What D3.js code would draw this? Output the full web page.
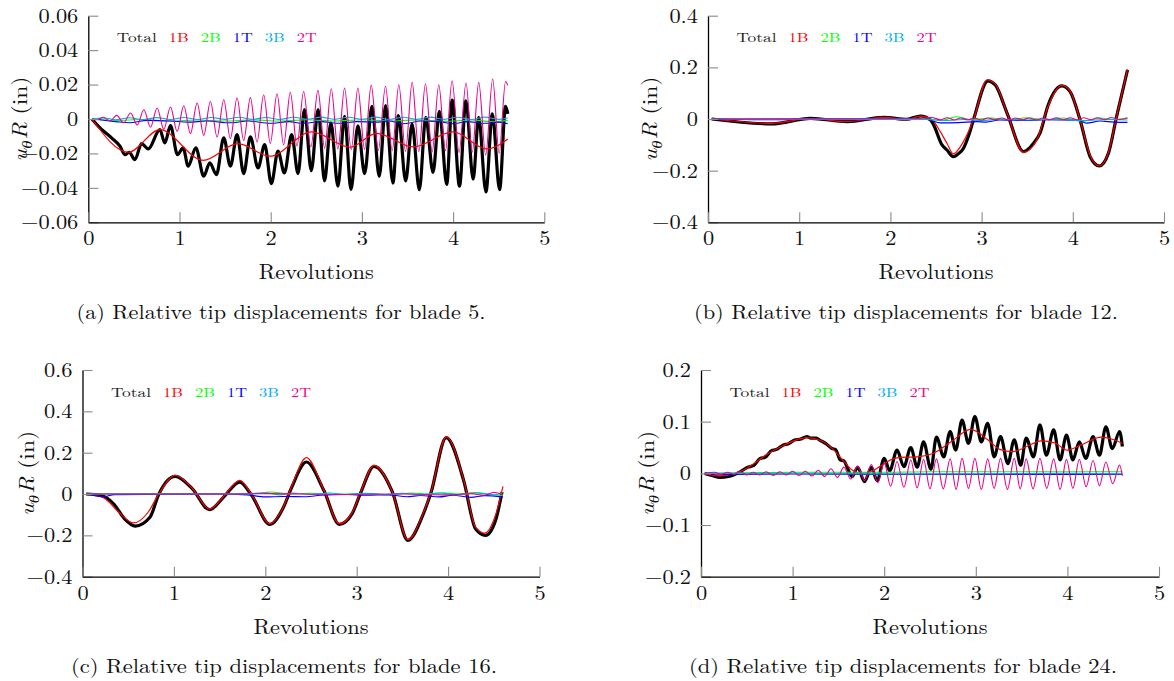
<!DOCTYPE html>
<html>
<head>
<meta charset="utf-8">
<script src="https://cdn.jsdelivr.net/npm/d3@7"></script>
<style>
body { margin: 0; background: #fff; }
svg { display: block; font-family: "Latin Modern Roman", "CMU Serif", "Liberation Serif", serif; }
</style>
</head>
<body>
<svg id="mainsvg" width="1174" height="681"></svg>
<script>
// ---- data (x = revolutions, y = u_theta R in inches) ----
const revTicks = [0, 1, 2, 3, 4, 5];
const modeNames = ['Total', '1B', '2B', '1T', '3B', '2T'];

const blade5Ticks = [-0.06, -0.04, -0.02, 0, 0.02, 0.04, 0.06];
const blade5TickLabels = ['−0.06', '−0.04', '−0.02', '0', '0.02', '0.04', '0.06'];
const blade12Ticks = [-0.4, -0.2, 0, 0.2, 0.4];
const blade12TickLabels = ['−0.4', '−0.2', '0', '0.2', '0.4'];
const blade16Ticks = [-0.4, -0.2, 0, 0.2, 0.4, 0.6];
const blade16TickLabels = ['−0.4', '−0.2', '0', '0.2', '0.4', '0.6'];
const blade24Ticks = [-0.2, -0.1, 0, 0.1, 0.2];
const blade24TickLabels = ['−0.2', '−0.1', '0', '0.1', '0.2'];

const captions = [
  '(a) Relative tip displacements for blade 5.',
  '(b) Relative tip displacements for blade 12.',
  '(c) Relative tip displacements for blade 16.',
  '(d) Relative tip displacements for blade 24.'
];

// blade 5
const blade5Total = [[0.04,0],[0.128,-0.0052],[0.255,-0.011],[0.347,-0.0158],[0.401,-0.0207],[0.449,-0.0193],[0.511,-0.0236],[0.584,-0.0143],[0.657,-0.0174],[0.785,-0.0062],[0.839,-0.0139],[0.901,-0.0039],[0.978,-0.0207],[1.04,-0.0168],[1.095,-0.0274],[1.179,-0.0168],[1.266,-0.0332],[1.332,-0.0255],[1.405,-0.0323],[1.485,-0.011],[1.558,-0.0274],[1.631,-0.0091],[1.704,-0.0317],[1.777,-0.0104],[1.861,-0.0284],[1.934,-0.0149],[2.007,-0.0375],[2.08,-0.0187],[2.15,-0.0313],[2.23,-0.0091],[2.3,-0.0317],[2.37,0.0054],[2.445,-0.030],[2.52,0.0054],[2.59,-0.036],[2.66,-0.0023],[2.737,-0.039],[2.81,0.0015],[2.88,-0.041],[2.956,-0.004],[3.03,-0.0318],[3.11,0.0074],[3.19,-0.0333],[3.26,0.0078],[3.34,-0.0372],[3.40,0.002],[3.48,-0.036],[3.55,-0.003],[3.63,-0.0411],[3.70,0.001],[3.78,-0.031],[3.85,0.0045],[3.93,-0.038],[3.99,0.011],[4.07,-0.039],[4.14,0.0105],[4.22,-0.035],[4.28,0.001],[4.36,-0.0424],[4.43,0.003],[4.51,-0.0411],[4.575,0.0074],[4.6,0.003]];
const blade5Mode1B = [[0.04,0],[0.44,-0.0193],[0.785,-0.0062],[1.26,-0.024],[1.64,-0.0143],[1.99,-0.0216],[2.45,-0.0075],[2.87,-0.0164],[3.16,-0.0083],[3.56,-0.0162],[4.0,-0.0075],[4.37,-0.0174],[4.6,-0.0116]];
const blade5Mode2B = [[0.04,0],[0.3,-0.0008],[0.6,-0.0003],[0.9,-0.0012],[1.2,-0.0006],[1.5,-0.0012],[1.8,-0.0005],[2.1,-0.0012],[2.4,-0.0004],[2.7,-0.0012],[3.0,-0.0004],[3.3,-0.0012],[3.6,-0.0005],[3.9,-0.0014],[4.2,-0.0006],[4.45,-0.0016],[4.6,-0.0008]];
const blade5Mode1T = [[0.04,0],[0.3,-0.0015],[0.45,-0.0022],[0.65,-0.0008],[0.9,-0.0012],[1.1,-0.0018],[1.3,-0.0012],[1.55,-0.0022],[1.75,-0.0012],[2.0,-0.0025],[2.2,-0.0015],[2.35,-0.0025],[2.55,-0.0015],[2.75,-0.0025],[2.95,-0.0015],[3.15,-0.0018],[3.3,-0.0012],[3.45,-0.0028],[3.65,-0.0012],[3.85,-0.0015],[4.0,-0.0028],[4.15,-0.0015],[4.35,-0.0025],[4.5,-0.0018],[4.6,-0.0028]];
const blade5Mode3B = [[0.04,0],[0.17,0.0006],[0.3,-0.0004],[0.45,0.0007],[0.6,-0.0004],[0.75,0.0008],[0.9,-0.0003],[1.05,0.0009],[1.2,-0.0003],[1.35,0.0009],[1.5,-0.0002],[1.65,0.001],[1.8,-0.0002],[1.95,0.0009],[2.1,-0.0003],[2.25,0.001],[2.4,-0.0002],[2.55,0.0011],[2.7,-0.0002],[2.85,0.001],[3.0,-0.0002],[3.15,0.0011],[3.3,-0.0003],[3.45,0.001],[3.6,-0.0002],[3.75,0.0011],[3.9,-0.0002],[4.05,0.001],[4.2,-0.0003],[4.35,0.0011],[4.5,-0.0002],[4.6,0.0006]];
const blade5Mode2T = [[0.04,0],[0.09,-0.0004],[0.164,0.001],[0.237,-0.0012],[0.31,0.0021],[0.387,-0.0022],[0.464,0.0035],[0.536,-0.0035],[0.609,0.0054],[0.682,-0.0048],[0.755,0.0064],[0.828,-0.006],[0.901,0.007],[0.974,-0.0072],[1.047,0.0077],[1.12,-0.0085],[1.193,0.0093],[1.266,-0.0095],[1.339,0.0102],[1.412,-0.0105],[1.485,0.0112],[1.558,-0.0115],[1.631,0.0122],[1.704,-0.0125],[1.777,0.0124],[1.85,-0.0135],[1.923,0.0141],[1.996,-0.0142],[2.069,0.0147],[2.142,-0.015],[2.215,0.0155],[2.288,-0.0157],[2.361,0.016],[2.44,-0.0163],[2.518,0.0166],[2.591,-0.017],[2.664,0.0176],[2.737,-0.0175],[2.81,0.018],[2.883,-0.0178],[2.956,0.018],[3.029,-0.0176],[3.102,0.0197],[3.18,-0.0182],[3.259,0.019],[3.332,-0.0185],[3.405,0.0199],[3.478,-0.0188],[3.551,0.0213],[3.624,-0.019],[3.697,0.0205],[3.77,-0.0192],[3.843,0.0199],[3.916,-0.0185],[3.989,0.0222],[4.065,-0.0195],[4.142,0.0209],[4.21,-0.0193],[4.281,0.0213],[4.357,-0.021],[4.434,0.0232],[4.505,-0.02],[4.575,0.0218],[4.6,0.0195]];

// blade 12
const blade12Total = [[0.04,0],[0.70,-0.019],[1.124,0.0026],[1.526,-0.0103],[1.927,0.0065],[2.18,-0.001],[2.33,0.0116],[2.44,-0.004],[2.47,-0.02],[2.566,-0.1006],[2.62,-0.12],[2.69,-0.146],[2.75,-0.133],[2.80,-0.114],[2.86,-0.062],[2.91,-0.004],[3.07,0.148],[3.15,0.132],[3.28,0.022],[3.46,-0.126],[3.57,-0.094],[3.64,-0.055],[3.73,0.054],[3.88,0.128],[3.97,0.106],[4.08,-0.004],[4.19,-0.146],[4.29,-0.182],[4.39,-0.133],[4.48,0.009],[4.6,0.19]];
const blade12Mode1B = [[0.04,0],[0.70,-0.017],[1.124,0.002],[1.526,-0.01],[1.927,0.006],[2.18,-0.001],[2.33,0.011],[2.46,-0.004],[2.547,-0.049],[2.62,-0.094],[2.69,-0.135],[2.78,-0.1],[2.91,-0.004],[3.06,0.151],[3.15,0.135],[3.28,0.022],[3.46,-0.129],[3.6,-0.085],[3.73,0.05],[3.88,0.13],[3.97,0.108],[4.08,-0.004],[4.19,-0.14],[4.29,-0.182],[4.39,-0.13],[4.48,0.009],[4.6,0.192]];
const blade12Mode2B = [[0.04,0],[2.4,0],[2.55,-0.006],[2.73,0.009],[2.9,-0.003],[3.1,0.004],[3.3,-0.004],[3.5,0.005],[3.7,-0.003],[3.9,0.004],[4.1,-0.01],[4.3,0.004],[4.45,-0.002],[4.6,0.005]];
const blade12Mode1T = [[0.04,0],[0.7,-0.003],[1.2,0],[1.6,-0.003],[2.0,0],[2.4,-0.002],[2.55,-0.015],[2.75,-0.014],[2.95,-0.01],[3.05,-0.012],[3.2,-0.004],[3.5,-0.006],[3.7,-0.003],[3.9,-0.004],[4.05,-0.005],[4.15,-0.016],[4.3,-0.008],[4.45,-0.012],[4.6,-0.013]];
const blade12Mode3B = [[0.04,0],[2.4,-0.002],[2.6,-0.006],[2.8,-0.002],[3.0,-0.006],[3.2,-0.001],[3.5,-0.004],[3.8,-0.001],[4.1,-0.006],[4.4,-0.002],[4.6,-0.004]];
const blade12Mode2T = [[0.04,0],[2.3,0.002],[2.45,0.006],[2.55,-0.003],[2.62,0.005],[2.7,-0.004],[2.77,0.004],[2.85,-0.003],[2.92,0.004],[3.0,-0.004],[3.07,0.004],[3.15,-0.003],[3.22,0.004],[3.3,-0.004],[3.37,0.004],[3.45,-0.003],[3.52,0.004],[3.6,-0.004],[3.67,0.004],[3.75,-0.003],[3.82,0.005],[3.9,-0.003],[3.97,0.005],[4.05,-0.003],[4.12,0.005],[4.2,-0.003],[4.27,0.005],[4.35,-0.003],[4.42,0.006],[4.5,-0.002],[4.6,0.004]];

// blade 16
const blade16Total = [[0.04,0],[0.193,-0.006],[0.34,-0.047],[0.46,-0.12],[0.577,-0.155],[0.74,-0.111],[0.83,-0.006],[1.015,0.085],[1.2,0.026],[1.39,-0.076],[1.544,-0.015],[1.72,0.058],[1.85,-0.006],[2.05,-0.147],[2.2,-0.063],[2.29,0.034],[2.45,0.155],[2.64,0.018],[2.81,-0.147],[2.95,-0.095],[3.04,0.002],[3.19,0.134],[3.39,0.01],[3.56,-0.224],[3.73,-0.095],[3.81,0.002],[3.98,0.273],[4.17,0.066],[4.3,-0.168],[4.41,-0.2],[4.52,-0.127],[4.59,0.01]];
const blade16Mode1B = [[0.04,0],[0.23,-0.018],[0.394,-0.087],[0.558,-0.14],[0.72,-0.087],[0.83,-0.003],[1.015,0.09],[1.2,0.028],[1.39,-0.073],[1.544,-0.012],[1.72,0.066],[1.85,-0.002],[2.05,-0.144],[2.2,-0.06],[2.29,0.04],[2.45,0.176],[2.64,0.02],[2.81,-0.144],[2.95,-0.09],[3.04,0.005],[3.19,0.139],[3.39,0.01],[3.56,-0.221],[3.73,-0.09],[3.81,0.005],[3.98,0.276],[4.17,0.07],[4.3,-0.16],[4.4,-0.189],[4.52,-0.1],[4.6,0.037]];
const blade16Mode2B = [[0.04,0],[0.9,0.002],[1.6,0],[1.9,0.003],[2.05,0.01],[2.25,0.001],[2.5,0.004],[2.8,-0.002],[3.0,0.002],[3.4,-0.003],[3.6,0.005],[3.8,0],[3.95,0.006],[4.1,0],[4.3,0.007],[4.45,0],[4.6,-0.008]];
const blade16Mode1T = [[0.04,0],[0.1,-0.005],[0.22,-0.013],[0.35,-0.003],[0.7,-0.002],[1.5,0],[1.8,-0.004],[2.0,-0.014],[2.2,-0.012],[2.45,-0.013],[2.6,-0.006],[2.9,-0.002],[3.1,-0.006],[3.35,-0.004],[3.55,-0.013],[3.7,-0.007],[3.9,-0.014],[4.05,-0.006],[4.25,-0.016],[4.4,-0.008],[4.6,-0.015]];
const blade16Mode3B = [[0.04,0],[1.8,0],[2.0,0.006],[2.15,-0.004],[2.3,0.005],[2.5,-0.002],[2.7,0.005],[2.9,-0.002],[3.1,0.004],[3.3,-0.003],[3.5,0.004],[3.7,-0.004],[3.9,0.005],[4.1,-0.004],[4.3,0.005],[4.5,-0.004],[4.6,0.006]];
const blade16Mode2T = [[0.04,0],[1.6,0],[2.0,0.002],[2.8,-0.002],[3.5,0],[4.0,-0.004],[4.25,0.002],[4.4,-0.006],[4.5,0.008],[4.6,-0.004]];

// blade 24
const blade24Total = [[0.04,0],[0.12,-0.004],[0.208,-0.0077],[0.3,-0.006],[0.354,-0.003],[0.427,0.003],[0.5,0.011],[0.536,0.013],[0.58,0.016],[0.646,0.029],[0.7,0.031],[0.77,0.044],[0.82,0.046],[0.9,0.055],[0.95,0.057],[1.03,0.065],[1.08,0.066],[1.157,0.071],[1.2,0.068],[1.26,0.068],[1.3,0.064],[1.36,0.058],[1.43,0.048],[1.47,0.046],[1.52,0.026],[1.56,0.024],[1.595,0.012],[1.65,-0.0065],[1.71,0.0116],[1.785,-0.016],[1.86,0.0116],[1.923,-0.014],[2.0,0.029],[2.06,0.005],[2.14,0.045],[2.215,0.013],[2.29,0.05],[2.36,0.012],[2.43,0.061],[2.51,0.008],[2.57,0.07],[2.65,0.032],[2.72,0.081],[2.78,0.045],[2.85,0.103],[2.92,0.058],[2.99,0.11],[3.06,0.061],[3.13,0.097],[3.2,0.032],[3.27,0.071],[3.35,0.019],[3.42,0.065],[3.49,0.016],[3.55,0.068],[3.63,0.032],[3.7,0.094],[3.77,0.035],[3.85,0.084],[3.92,0.026],[3.99,0.074],[4.06,0.026],[4.13,0.061],[4.2,0.029],[4.28,0.071],[4.35,0.035],[4.42,0.09],[4.49,0.048],[4.57,0.081],[4.6,0.052]];
const blade24Mode1B = [[0.04,0],[0.2,-0.005],[0.36,-0.001],[0.5,0.01],[0.72,0.037],[0.9,0.054],[1.157,0.069],[1.3,0.064],[1.45,0.045],[1.56,0.023],[1.65,0.0065],[1.74,0],[1.85,0.003],[1.96,0.014],[2.07,0.026],[2.18,0.031],[2.36,0.032],[2.54,0.039],[2.73,0.061],[2.945,0.085],[3.13,0.065],[3.27,0.046],[3.4,0.042],[3.57,0.053],[3.71,0.063],[3.86,0.059],[4.0,0.045],[4.15,0.055],[4.37,0.07],[4.51,0.065],[4.6,0.058]];
const blade24Mode2B = [[0.04,0],[0.5,0.001],[1.0,0.002],[1.5,0.002],[2.0,0.002],[2.5,0.003],[3.0,0.003],[3.5,0.003],[4.0,0.003],[4.6,0.003]];
const blade24Mode1T = [[0.04,0],[0.3,-0.002],[1.0,-0.001],[2.0,-0.002],[3.0,-0.002],[4.0,-0.002],[4.6,-0.002]];
const blade24Mode3B = [[0.04,0],[1.0,0],[2.0,-0.001],[3.0,-0.001],[4.0,0],[4.6,-0.001]];
const blade24Mode2T = [[0.04,0],[0.15,0.002],[0.22,-0.002],[0.29,0.002],[0.36,-0.002],[0.43,0.003],[0.5,-0.003],[0.57,0.002],[0.64,-0.003],[0.71,0.003],[0.79,-0.004],[0.86,0.003],[0.93,-0.003],[1.0,0.004],[1.07,-0.004],[1.14,0.004],[1.21,-0.005],[1.28,0.006],[1.35,-0.006],[1.42,0.009],[1.49,-0.008],[1.56,0.012],[1.635,-0.011],[1.71,0.014],[1.785,-0.014],[1.86,0.017],[1.93,-0.018],[2.0,0.02],[2.07,-0.025],[2.14,0.023],[2.215,-0.027],[2.29,0.026],[2.36,-0.028],[2.43,0.027],[2.5,-0.03],[2.57,0.028],[2.645,-0.03],[2.72,0.028],[2.785,-0.031],[2.85,0.029],[2.92,-0.029],[2.99,0.029],[3.06,-0.031],[3.13,0.028],[3.2,-0.029],[3.27,0.029],[3.345,-0.031],[3.42,0.029],[3.485,-0.03],[3.55,0.028],[3.625,-0.03],[3.7,0.029],[3.775,-0.029],[3.85,0.028],[3.92,-0.031],[3.99,0.027],[4.06,-0.029],[4.13,0.027],[4.205,-0.026],[4.28,0.025],[4.35,-0.024],[4.42,0.022],[4.495,-0.02],[4.57,0.016],[4.6,-0.005]];

// ---- styling / layout ----
const modeColors = ['#000000', '#ff0000', '#00ff00', '#0000ff', '#00aeef', '#ec008c'];
const modeWidths = [3.2, 1.2, 1.1, 1.1, 1.1, 1.1];

const panels = [
  {left: 88.3, right: 544.3, top: 15.7, bottom: 222.3, domain: [-0.06, 0.06],
   ticks: blade5Ticks, tickLabels: blade5TickLabels, ylabX: 26.5, capX: 281, capW: 409,
   series: [blade5Total, blade5Mode1B, blade5Mode2B, blade5Mode1T, blade5Mode3B, blade5Mode2T]},
  {left: 708, right: 1164, top: 15.7, bottom: 222.3, domain: [-0.4, 0.4],
   ticks: blade12Ticks, tickLabels: blade12TickLabels, ylabX: 657, capX: 906, capW: 424,
   series: [blade12Total, blade12Mode1B, blade12Mode2B, blade12Mode1T, blade12Mode3B, blade12Mode2T]},
  {left: 82.5, right: 539.5, top: 370, bottom: 576.7, domain: [-0.4, 0.6],
   ticks: blade16Ticks, tickLabels: blade16TickLabels, ylabX: 34, capX: 284, capW: 426,
   series: [blade16Total, blade16Mode1B, blade16Mode2B, blade16Mode1T, blade16Mode3B, blade16Mode2T]},
  {left: 701, right: 1159, top: 370, bottom: 576.7, domain: [-0.2, 0.2],
   ticks: blade24Ticks, tickLabels: blade24TickLabels, ylabX: 654, capX: 903, capW: 428,
   series: [blade24Total, blade24Mode1B, blade24Mode2B, blade24Mode1T, blade24Mode3B, blade24Mode2T]}
];

const svg = d3.select('#mainsvg');
svg.append('rect').attr('width', 1174).attr('height', 681).attr('fill', '#fff');

// stretch text horizontally, like the wide LaTeX glyphs of the figure
function widen(sel, k) {
  sel.each(function() {
    const w = this.getComputedTextLength();
    this.setAttribute('textLength', w * k);
    this.setAttribute('lengthAdjust', 'spacingAndGlyphs');
  });
}

panels.forEach((p, i) => {
  const innerWidth = p.right - p.left;
  const innerHeight = p.bottom - p.top;
  const xScale = d3.scaleLinear().domain([0, 5]).range([0, innerWidth]);
  const yScale = d3.scaleLinear().domain(p.domain).range([innerHeight, 0]);

  const g = svg.append('g').attr('transform', `translate(${p.left}, ${p.top})`);

  // lines
  const line = d3.line()
      .x(d => xScale(d[0]))
      .y(d => yScale(d[1]))
      .curve(d3.curveMonotoneX);
  p.series.forEach((s, j) => {
    g.append('path')
      .attr('d', line(s))
      .attr('fill', 'none')
      .attr('stroke', modeColors[j])
      .attr('stroke-width', modeWidths[j])
      .attr('stroke-linejoin', 'round');
  });

  // axes
  const yAxis = d3.axisLeft(yScale)
      .tickValues(p.ticks)
      .tickFormat((d, k) => p.tickLabels[k])
      .tickSizeInner(-10).tickSizeOuter(0).tickPadding(10);
  const xAxis = d3.axisBottom(xScale)
      .tickValues(revTicks)
      .tickFormat(d3.format('d'))
      .tickSizeInner(-10).tickSizeOuter(0).tickPadding(9);
  const yAxisG = g.append('g').call(yAxis);
  const xAxisG = g.append('g').attr('transform', `translate(0, ${innerHeight})`).call(xAxis);
  [yAxisG, xAxisG].forEach(a => {
    a.attr('font-family', null).attr('font-size', 20);
    a.select('.domain').attr('stroke', '#000').attr('stroke-width', 1.3);
    a.selectAll('.tick line').attr('stroke', '#8a8a8a').attr('stroke-width', 1.1);
    a.selectAll('.tick text').attr('fill', '#111');
    widen(a.selectAll('.tick text'), 1.12);
  });

  // legend
  const legendW = [40, 20, 20, 20, 20, 20];
  let lx = 28.5;
  modeNames.forEach((m, j) => {
    g.append('text')
      .attr('x', lx).attr('y', 26.8)
      .attr('font-size', 12.5)
      .attr('fill', j === 0 ? '#222' : modeColors[j])
      .attr('textLength', legendW[j])
      .attr('lengthAdjust', 'spacingAndGlyphs')
      .text(m);
    lx += legendW[j] + 12;
  });

  // x label
  svg.append('text')
    .attr('x', p.left + innerWidth / 2).attr('y', p.bottom + 57)
    .attr('text-anchor', 'middle').attr('font-size', 21).attr('fill', '#111')
    .attr('textLength', 115).attr('lengthAdjust', 'spacingAndGlyphs')
    .text('Revolutions');

  // y label
  const yl = svg.append('text')
    .attr('transform', `translate(${p.ylabX}, ${p.top + innerHeight / 2}) rotate(-90)`)
    .attr('text-anchor', 'middle').attr('font-size', 21).attr('fill', '#111');
  yl.append('tspan').attr('font-style', 'italic').text('u');
  yl.append('tspan').attr('font-style', 'italic').attr('font-size', 15).attr('dy', 5).text('θ');
  yl.append('tspan').attr('font-style', 'italic').attr('dy', -5).attr('dx', 1).text('R');
  yl.append('tspan').text(' (in)');
  yl.attr('textLength', 85).attr('lengthAdjust', 'spacingAndGlyphs');

  // caption
  svg.append('text')
    .attr('x', p.capX).attr('y', p.bottom + 96.5)
    .attr('text-anchor', 'middle').attr('font-size', 20).attr('fill', '#111')
    .attr('textLength', p.capW).attr('lengthAdjust', 'spacingAndGlyphs')
    .text(captions[i]);
});
</script>
</body>
</html>
